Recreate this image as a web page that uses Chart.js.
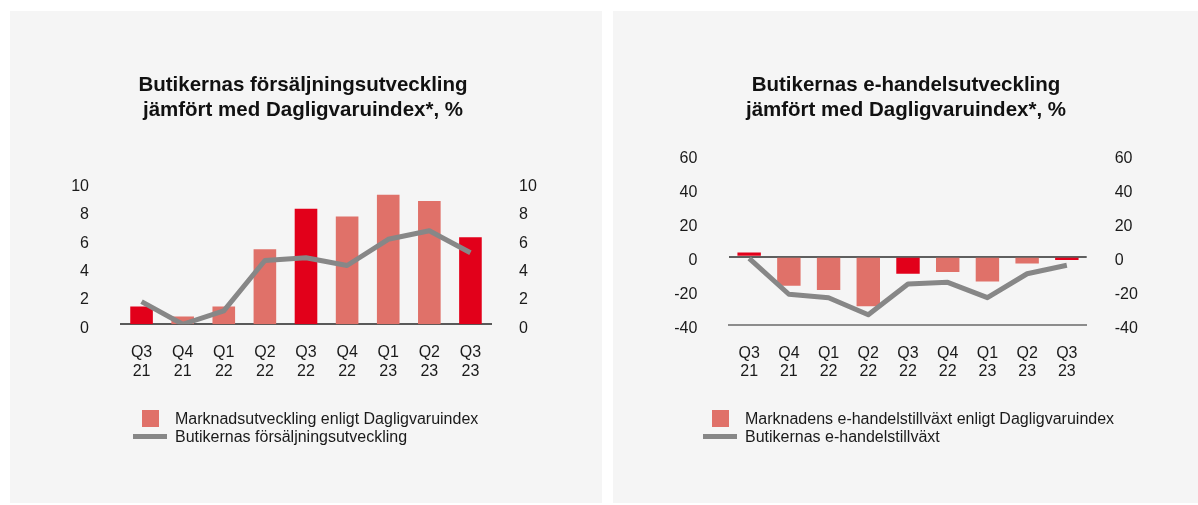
<!DOCTYPE html>
<html>
<head>
<meta charset="utf-8">
<script src="https://cdn.jsdelivr.net/npm/chart.js@4.4.0/dist/chart.umd.min.js"></script>
<style>
    body { margin: 0; background: #fff; font-family: "Liberation Sans", Arial, sans-serif; }
    .panel { position: absolute; top: 11px; height: 492px; background: #f5f5f5; }
    .panel canvas { position: absolute; left: 0; top: 0; }
    .title { position: absolute; top: 60px; text-align: center; font-weight: bold; font-size: 20.5px; line-height: 25px; color: #111; }
    .legend { position: absolute; top: 399px; font-size: 16px; line-height: 17.7px; color: #1a1a1a; }
    .legend .row { position: relative; height: 17.7px; white-space: nowrap; }
    .legend .box { position: absolute; width: 17px; height: 17px; top: 0; }
    .legend .line { position: absolute; width: 34px; height: 5px; top: 6px; }
</style>
</head>
<body>
<div class="panel" id="leftPanel" style="left:10px;width:592px;">
    <div class="chartBox" style="position:absolute;left:0;top:0;width:592px;height:492px;"><canvas id="salesChart"></canvas></div>
    <div class="title" style="left:0;width:586px;">Butikernas försäljningsutveckling<br>jämfört med Dagligvaruindex*, %</div>
    <div class="legend" id="salesLegend" style="left:165px;"></div>
</div>
<div class="panel" id="rightPanel" style="left:613px;width:585px;">
    <div class="chartBox" style="position:absolute;left:0;top:0;width:585px;height:492px;"><canvas id="ecomChart"></canvas></div>
    <div class="title" style="left:0;width:586px;">Butikernas e-handelsutveckling<br>jämfört med Dagligvaruindex*, %</div>
    <div class="legend" id="ecomLegend" style="left:132px;"></div>
</div>
<script>
const quarters = [["Q3", "21"], ["Q4", "21"], ["Q1", "22"], ["Q2", "22"], ["Q3", "22"], ["Q4", "22"], ["Q1", "23"], ["Q2", "23"], ["Q3", "23"]];

const salesIndex = [1.25, 0.55, 1.25, 5.3, 8.15, 7.6, 9.15, 8.7, 6.15];
const salesStores = [1.6, 0.0, 0.95, 4.5, 4.7, 4.15, 6.0, 6.6, 5.05];
const salesTicks = [0, 2, 4, 6, 8, 10];

const ecomIndex = [2.5, -17, -19.5, -29, -10, -9, -14.5, -4, -2];
const ecomStores = [-1, -22, -24, -34, -16, -15, -24, -10, -5];
const ecomTicks = [-40, -20, 0, 20, 40, 60];

const RED = "#e2001a";
const SALMON = "#e07169";
const GREY = "#878787";
const TEXT = "#1a1a1a";
const FONT = "'Liberation Sans', Arial, sans-serif";

function barColor(ctx){
    const q = quarters[ctx.dataIndex];
    return q && q[0] === "Q3" ? RED : SALMON;
}

function yAxis(ticks, pos, width, opts){
    return Object.assign({
        position: pos,
        min: ticks[0],
        max: ticks[ticks.length - 1],
        afterBuildTicks: (axis) => { axis.ticks = ticks.map(v => ({ value: v })); },
        afterFit: (axis) => { axis.width = width; },
        border: { display: false },
        grid: { display: false, drawTicks: false },
        ticks: {
            padding: pos === "left" ? 32 : 28,
            labelOffset: 4,
            color: TEXT,
            font: { size: 16, family: FONT }
        }
    }, opts || {});
}

function buildLegend(chart, id){
    const el = document.getElementById(id);
    chart.data.datasets.slice().sort((a, b) => b.order - a.order).forEach(ds => {
        const row = document.createElement("div");
        row.className = "row";
        const mark = document.createElement("span");
        if(ds.type === "line"){
            mark.className = "line";
            mark.style.left = "-42px";
            mark.style.background = ds.borderColor;
        }else{
            mark.className = "box";
            mark.style.left = "-33px";
            mark.style.background = SALMON;
        }
        row.appendChild(mark);
        row.appendChild(document.createTextNode(ds.label));
        el.appendChild(row);
    });
}

function renderChart(canvasId, legendId, barLabel, barData, lineLabel, lineData, ticks, layout, barPct, zeroGrid){
    const ctx = document.getElementById(canvasId).getContext("2d");
    const chart = new Chart(ctx, {
        data: {
            labels: quarters,
            datasets: [
                {
                    type: "bar",
                    label: barLabel,
                    data: barData,
                    backgroundColor: barColor,
                    categoryPercentage: 1,
                    barPercentage: barPct,
                    order: 2,
                    yAxisID: "y"
                },
                {
                    type: "line",
                    label: lineLabel,
                    data: lineData,
                    borderColor: GREY,
                    borderWidth: 5,
                    borderJoinStyle: "round",
                    pointRadius: 0,
                    tension: 0,
                    order: 1,
                    yAxisID: "y"
                }
            ]
        },
        options: {
            responsive: true,
            maintainAspectRatio: false,
            animation: false,
            layout: { padding: { left: 0, right: 0, top: layout.top, bottom: layout.bottom } },
            plugins: {
                legend: { display: false },
                tooltip: { enabled: false }
            },
            scales: {
                x: {
                    afterFit: (axis) => { axis.height = 60; },
                    border: { display: true, color: zeroGrid ? "#8c8c8c" : "#595959", width: 2 },
                    grid: { display: false, drawTicks: false },
                    ticks: {
                        padding: 19,
                        color: TEXT,
                        maxRotation: 0,
                        font: { size: 16, lineHeight: 1.17, family: FONT }
                    }
                },
                y: yAxis(ticks, "left", layout.leftW, zeroGrid ? {
                    grid: {
                        display: true,
                        drawTicks: false,
                        lineWidth: 2,
                        color: (c) => c.tick && c.tick.value === 0 ? "#5f5f5f" : "rgba(0,0,0,0)"
                    }
                } : null),
                y2: yAxis(ticks, "right", layout.rightW)
            }
        }
    });
    buildLegend(chart, legendId);
    return chart;
}

renderChart("salesChart", "salesLegend",
    "Marknadsutveckling enligt Dagligvaruindex", salesIndex,
    "Butikernas försäljningsutveckling", salesStores,
    salesTicks, { top: 171.6, bottom: 118.7, leftW: 111, rightW: 111 }, 0.55, false);

renderChart("ecomChart", "ecomLegend",
    "Marknadens e-handelstillväxt enligt Dagligvaruindex", ecomIndex,
    "Butikernas e-handelstillväxt", ecomStores,
    ecomTicks, { top: 143.2, bottom: 118, leftW: 116.3, rightW: 111.3 }, 0.59, true);
</script>
</body>
</html>
